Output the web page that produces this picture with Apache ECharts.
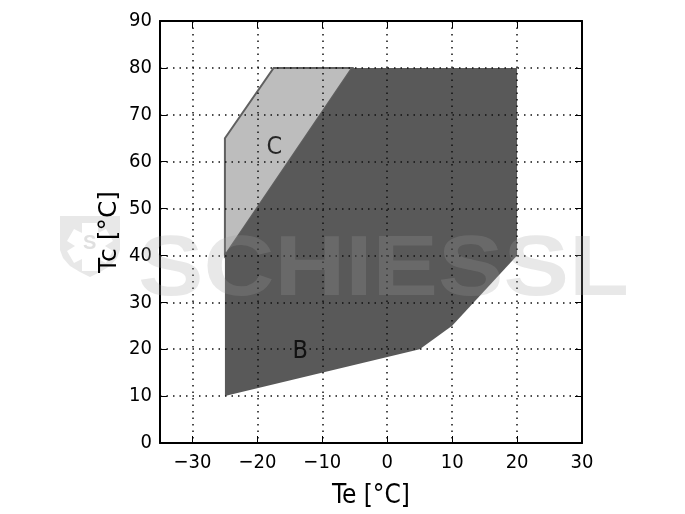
<!DOCTYPE html>
<html>
<head>
<meta charset="utf-8">
<script src="https://cdn.jsdelivr.net/npm/echarts@6/dist/echarts.min.js"></script>
<style>
  html, body { margin: 0; padding: 0; background: #fff; }
  #main { width: 685px; height: 514px; }
</style>
</head>
<body>
<div id="main"></div>
<script>
// envelope corners, [Te, Tc]
const regionB = [[-25, 10], [5, 20], [10, 25], [20, 40], [20, 80], [-5.4, 80], [-25, 40], [-25, 10]];
const regionC = [[-25, 40], [-5.4, 80], [-17.5, 80], [-25, 65], [-25, 40]];
const labelNames = ["B", "C"];
const labelTe = [-13.4, -17.4];
const labelTc = [19.6, 63];
const teTicks = [-30, -20, -10, 0, 10, 20, 30];
const tcTicks = [0, 10, 20, 30, 40, 50, 60, 70, 80, 90];

// the original is stretched vertically, so the condensed cut sits closer than the regular one
const fontName = "DejaVu Sans Condensed";
const markColor = "rgba(160,160,160,0.24)";
var myChart = echarts.init(document.getElementById("main"), null, { renderer: "canvas" });

function polygonSeries(points, fill, stroke) {
  return {
    type: "custom",
    coordinateSystem: "cartesian2d",
    z: 2,
    silent: true,
    data: [0],
    renderItem: function (params, api) {
      return {
        type: "polygon",
        shape: { points: points.map((p) => api.coord(p)) },
        style: { fill: fill, stroke: stroke, lineWidth: stroke ? 2 : 0 },
      };
    },
  };
}

function axisBase(ticks) {
  return {
    type: "value",
    z: 5,
    axisLine: { show: true, onZero: false, lineStyle: { color: "#000", width: 2 } },
    axisTick: {
      show: true,
      inside: true,
      length: 7,
      customValues: ticks,
      lineStyle: { color: "#000", width: 1 },
    },
    splitLine: { show: false },
    axisLabel: { show: false },
  };
}

const gridDots = { show: true, lineStyle: { color: "#111", width: 1.5, type: [1.5, 5] } };

let option = {
  animation: false,
  backgroundColor: "#fff",
  textStyle: { fontFamily: fontName, color: "#000" },
  grid: { left: 160, right: 103, top: 21, bottom: 71, outerBoundsMode: "none" },
  xAxis: [
    Object.assign(axisBase(teTicks), {
      min: -35,
      max: 30,
      position: "bottom",
      name: "Te [°C]",
      nameLocation: "middle",
      nameGap: 40,
      nameTextStyle: { fontSize: 26, fontFamily: fontName, color: "#000" },
      splitLine: gridDots,
      axisLabel: {
        show: true,
        fontSize: 20,
        fontFamily: fontName,
        color: "#000",
        margin: 10,
        customValues: teTicks,
        formatter: (v) => String(v).replace("-", "\u2212"),
      },
    }),
    Object.assign(axisBase(teTicks), { min: -35, max: 30, position: "top" }),
  ],
  yAxis: [
    Object.assign(axisBase(tcTicks), {
      min: 0,
      max: 90,
      position: "left",
      name: "Tc [°C]",
      nameLocation: "middle",
      nameGap: 38,
      nameMoveOverlap: false,
      nameTextStyle: { fontSize: 25, fontFamily: "DejaVu Sans", color: "#000" },
      splitLine: gridDots,
      axisLabel: {
        show: true,
        fontSize: 20,
        fontFamily: fontName,
        color: "#000",
        margin: 8,
        customValues: tcTicks,
      },
    }),
    Object.assign(axisBase(tcTicks), { min: 0, max: 90, position: "right" }),
  ],
  series: [
    polygonSeries(regionC, "#bdbdbd", "#606060"),
    polygonSeries(regionB, "#595959", null),
    {
      type: "scatter",
      z: 6,
      symbolSize: 0,
      silent: true,
      data: labelNames.map((n, i) => ({ name: n, value: [labelTe[i], labelTc[i]] })),
      label: {
        show: true,
        position: "inside",
        formatter: (p) => p.name,
        fontSize: 25,
        fontFamily: fontName,
        color: "#000",
      },
    },
  ],
  // shop watermark: the lettering lies over the plot, the shield under the axis title
  graphic: [
    {
      type: "text",
      z: 100,
      silent: true,
      x: 138,
      y: 229,
      scaleX: 1.155,
      style: {
        text: "SCHIESSL",
        font: "bold 85px 'Liberation Sans'",
        fill: markColor,
      },
    },
    {
      type: "polygon",
      z: 1,
      silent: true,
      shape: {
        points: [[60, 216], [120, 216], [120, 250], [117, 258], [110, 266], [100, 272], [90, 277], [80, 272], [70, 266], [63, 258], [60, 250]],
      },
      style: { fill: "#e8e8e8" },
    },
    {
      type: "polygon",
      z: 2,
      silent: true,
      shape: {
        points: [[82, 223], [98, 223], [98, 233], [106, 229], [113, 241], [105, 246], [113, 251], [106, 263], [98, 259], [98, 271], [82, 271], [82, 259], [74, 263], [67, 251], [75, 246], [67, 241], [74, 229], [82, 233]],
      },
      style: { fill: "#fff" },
    },
    {
      type: "text",
      z: 3,
      silent: true,
      x: 83,
      y: 233,
      style: { text: "S", font: "bold 20px 'Liberation Sans'", fill: "#e0e0e0" },
    },
  ],
};
myChart.setOption(option);
</script>
</body>
</html>
